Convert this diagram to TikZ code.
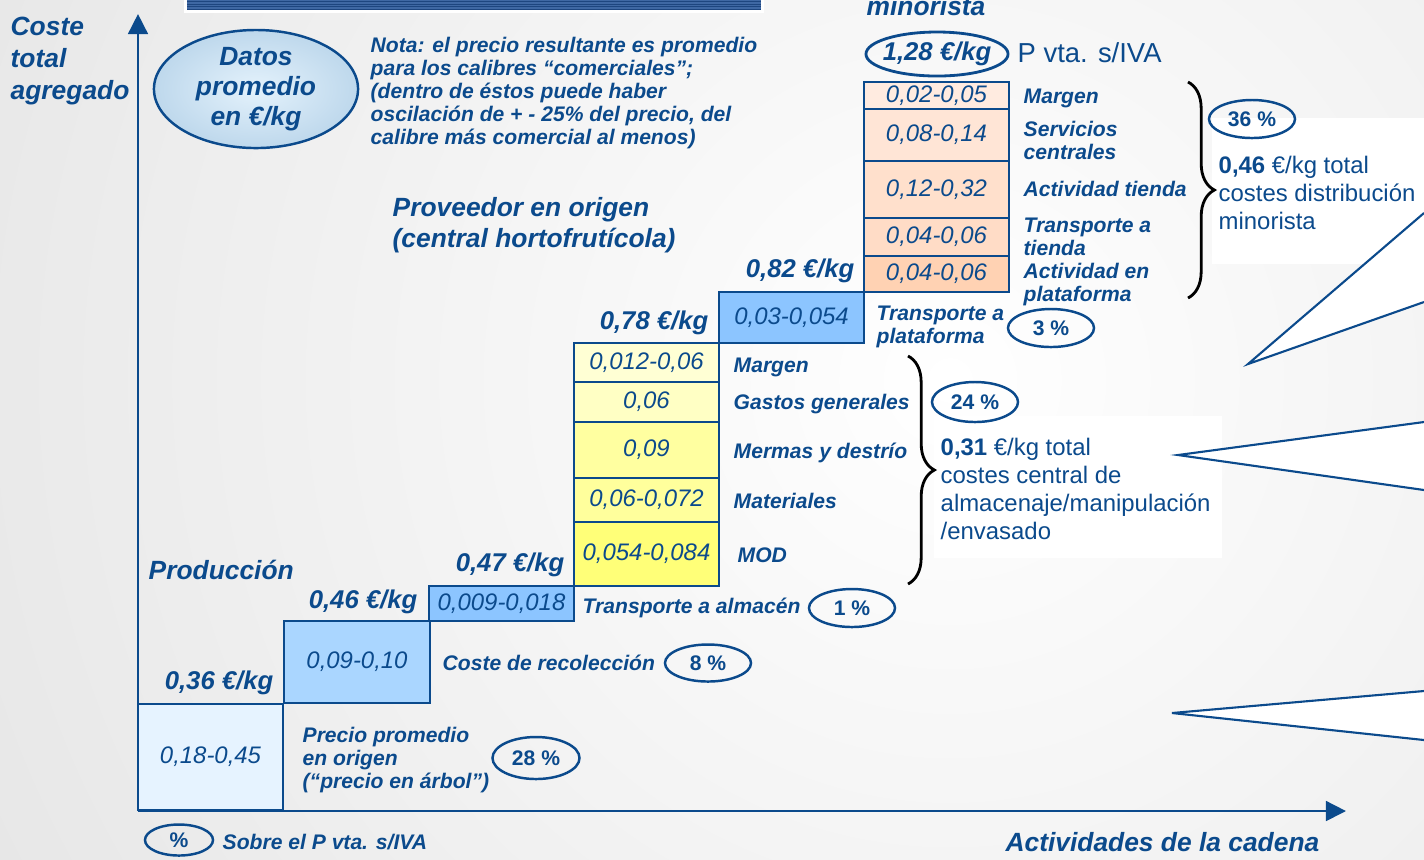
\documentclass[tikz,border=0pt]{standalone}
\usepackage{fontspec}
\setmainfont{Liberation Sans}
\usetikzlibrary{shapes.geometric,arrows.meta,decorations.pathreplacing}

\definecolor{navy}{HTML}{0B4A8C}
\definecolor{banner}{HTML}{1E467F}
\definecolor{bannerline}{HTML}{3F68A3}
\definecolor{datosin}{RGB}{228,242,252}
\definecolor{datosout}{RGB}{190,216,236}
\definecolor{origen}{HTML}{E6F3FF}
\definecolor{recol}{HTML}{AAD6FF}
\definecolor{transp}{HTML}{8CC5FF}
\definecolor{yel1}{HTML}{FFFFD4}
\definecolor{yel2}{HTML}{FFFFC4}
\definecolor{yel3}{HTML}{FFFFA0}
\definecolor{yel4}{HTML}{FFFF9C}
\definecolor{yel5}{HTML}{FFFF78}
\definecolor{ora1}{HTML}{FFEBE0}
\definecolor{ora2}{HTML}{FFE5D6}
\definecolor{ora3}{HTML}{FFE0CC}
\definecolor{ora4}{HTML}{FFDCC6}
\definecolor{ora5}{HTML}{FFD2B3}

\begin{document}
\begin{tikzpicture}[x=0.01cm, y=-0.01cm,
	val/.style={rectangle, draw=navy, line width=0.6pt, minimum width=1.45cm, inner sep=0pt, text=navy, font=\fontsize{6.8}{7}\selectfont\itshape},
	lbl/.style={anchor=west, align=left, inner sep=0pt, text=navy, font=\fontsize{6}{6.55}\selectfont\bfseries\itshape},
	price/.style={anchor=east, inner sep=0pt, text=navy, font=\fontsize{7.3}{8}\selectfont\bfseries\itshape},
	pct/.style={ellipse, draw=navy, line width=0.7pt, inner sep=0pt, minimum width=0.86cm, minimum height=0.38cm, text=navy, font=\fontsize{6}{6}\selectfont\bfseries},
	head/.style={inner sep=0pt, text=navy, font=\fontsize{7.5}{8.8}\selectfont\bfseries\itshape},
	total/.style={anchor=west, align=left, inner sep=0pt, text=navy, font=\fontsize{6.8}{8}\selectfont},
	axis/.style={navy, line width=0.75pt, -{Triangle[length=5.7pt,width=5.6pt]}},
	callout/.style={navy, line width=0.6pt},
	curly/.style={decorate, decoration={brace, amplitude=7.5pt}, line width=0.8pt},
]
	\useasboundingbox (0,0) rectangle (1424,859);
	\clip (0,0) rectangle (1424,859);

	% fondo y banda superior
	\shade[inner color=white, outer color=black!15] (950,380) circle [radius=17cm];
	\fill[white] (184,-10) rectangle (764,13);
	\fill[banner] (187,-10) rectangle (761,10);
	\foreach \s in {0.5,3,5.5,8}
		\draw[bannerline, line width=0.3pt] (187,\s) -- (761,\s);

	% recuadros blancos y llamadas
	\fill[white] (1212,118) rectangle (1424,264);
	\fill[white] (934,416) rectangle (1222,558);
	\coordinate (c1) at (1248,364);
	\coordinate (c1a) at (1424,213);
	\coordinate (c1b) at (1424,302);
	\coordinate (c2) at (1178,455);
	\coordinate (c2a) at (1424,422);
	\coordinate (c2b) at (1424,490);
	\coordinate (c3) at (1172,713);
	\coordinate (c3a) at (1424,691);
	\coordinate (c3b) at (1424,740);
	\fill[white] (c1) -- (c1a) -- (c1b) -- cycle;
	\fill[white] (c2) -- (c2a) -- (c2b) -- cycle;
	\fill[white] (c3) -- (c3a) -- (c3b) -- cycle;
	\draw[callout] (c1a) -- (c1) -- (c1b);
	\draw[callout] (c2a) -- (c2) -- (c2b);
	\draw[callout] (c3a) -- (c3) -- (c3b);

	% produccion
	\node[val, fill=origen, minimum height=1.06cm] (v1) at (210.5,757) {0,18-0,45};
	\node[val, fill=recol, minimum width=1.46cm, minimum height=0.82cm] (v2) at (357,662) {0,09-0,10};
	\node[val, fill=transp, minimum height=0.35cm] (v3) at (501.5,603.5) {0,009-0,018};
	% central hortofruticola
	\node[val, fill=yel1, minimum height=0.39cm] (y1) at (646.5,362.5) {0,012-0,06};
	\node[val, fill=yel2, minimum height=0.40cm] (y2) at (646.5,402) {0,06};
	\node[val, fill=yel3, minimum height=0.56cm] (y3) at (646.5,450) {0,09};
	\node[val, fill=yel4, minimum height=0.44cm] (y4) at (646.5,500) {0,06-0,072};
	\node[val, fill=yel5, minimum height=0.64cm] (y5) at (646.5,554) {0,054-0,084};
	\node[val, fill=transp, minimum height=0.51cm] (v4) at (791.5,317.5) {0,03-0,054};
	% minorista
	\node[val, fill=ora1, minimum height=0.27cm] (o1) at (936.5,95.5) {0,02-0,05};
	\node[val, fill=ora2, minimum height=0.52cm] (o2) at (936.5,135) {0,08-0,14};
	\node[val, fill=ora3, minimum height=0.57cm] (o3) at (936.5,189.5) {0,12-0,32};
	\node[val, fill=ora4, minimum height=0.38cm] (o4) at (936.5,237) {0,04-0,06};
	\node[val, fill=ora5, minimum height=0.36cm] (o5) at (936.5,274) {0,04-0,06};

	% ejes
	\coordinate (origin) at (138,811);
	\coordinate (ytip) at (138,14);
	\coordinate (xtip) at (1346,811);
	\draw[axis] (origin) -- (ytip);
	\draw[axis] (origin) -- (xtip);

	% llaves
	\coordinate (b1) at (908,356);
	\coordinate (b2) at (908,584);
	\coordinate (b3) at (1188,82);
	\coordinate (b4) at (1188,298);
	\draw[curly] (b1) -- (b2);
	\draw[curly] (b3) -- (b4);

	% titulos
	\node[head, anchor=west, align=left, font=\fontsize{7.5}{9}\selectfont\bfseries\itshape] (ejey) at (10,61) {Coste\\total\\agregado};
	\node[head, ellipse, draw=navy, line width=0.7pt, inner color=datosin, outer color=datosout, minimum width=2.04cm, minimum height=1.18cm, align=center, font=\fontsize{7.5}{8.5}\selectfont\bfseries\itshape] (datos) at (256,89) {Datos\\promedio\\en €/kg};
	\node[lbl] (nota) at (370,93) {Nota: el precio resultante es promedio\\para los calibres “comerciales”;\\(dentro de éstos puede haber\\oscilación de + - 25\% del precio, del\\calibre más comercial al menos)};
	\node[head, anchor=base] (minorista) at (926,15) {minorista};
	\node[head, anchor=west, align=left] (proveedor) at (392,225) {Proveedor en origen\\(central hortofrutícola)};
	\node[head, anchor=west] (produccion) at (148,570) {Producción};
	\node[head, anchor=east] (cadena) at (1320,842) {Actividades de la cadena};

	% precios acumulados
	\node[price] (p36) at (274,683) {0,36 €/kg};
	\node[price] (p46) at (418,602) {0,46 €/kg};
	\node[price] (p47) at (565,565) {0,47 €/kg};
	\node[price] (p78) at (709,323) {0,78 €/kg};
	\node[price] (p82) at (855,271) {0,82 €/kg};
	\node[ellipse, draw=navy, line width=0.8pt, inner xsep=-2pt, inner ysep=0pt, minimum width=1.42cm, minimum height=0.44cm, text=navy, font=\fontsize{7.3}{8}\selectfont\bfseries\itshape] (pvp) at (937,54) {1,28 €/kg};
	\node[anchor=west, inner sep=0pt, text=navy, font=\fontsize{7.8}{8}\selectfont] (pvpnota) at (1017,53) {P vta. s/IVA};

	% conceptos
	\node[lbl] (precio) at (302,760) {Precio promedio\\en origen\\(“precio en árbol”)};
	\node[lbl] (recoleccion) at (442,663) {Coste de recolección};
	\node[lbl] (almacen) at (582,608) {Transporte a almacén};
	\node[lbl] (margen1) at (733,367) {Margen};
	\node[lbl] (gastos) at (733,404) {Gastos generales};
	\node[lbl] (mermas) at (733,453) {Mermas y destrío};
	\node[lbl] (materiales) at (733,501) {Materiales};
	\node[lbl] (mod) at (737,555) {MOD};
	\node[lbl] (plataforma) at (876,327) {Transporte a\\plataforma};
	\node[lbl] (margen2) at (1023,98) {Margen};
	\node[lbl] (servicios) at (1023,140) {Servicios\\centrales};
	\node[lbl] (tienda) at (1023,189) {Actividad tienda};
	\node[lbl] (transtienda) at (1023,237) {Transporte a\\tienda};
	\node[lbl] (actplat) at (1023,285) {Actividad en\\plataforma};

	% porcentajes
	\node[pct, minimum width=0.87cm, minimum height=0.42cm] (q28) at (536,758) {28 \%};
	\node[pct, minimum height=0.37cm] (q8) at (708,663) {8 \%};
	\node[pct] (q1) at (852,608) {1 \%};
	\node[pct] (q3) at (1051,328) {3 \%};
	\node[pct, minimum height=0.40cm] (q24) at (975,402) {24 \%};
	\node[pct] (q36) at (1252,119) {36 \%};

	% totales
	\node[total] (t46) at (1218,193) {\textbf{0,46} €/kg total\\costes distribución\\minorista};
	\node[total] (t31) at (940,489) {\textbf{0,31} €/kg total\\costes central de\\almacenaje/manipulación\\/envasado};

	% leyenda
	\node[pct, minimum width=0.68cm, minimum height=0.31cm] (leyenda) at (179,840) {\%};
	\node[lbl] (sobre) at (222,842) {Sobre el P vta. s/IVA};
\end{tikzpicture}
\end{document}
